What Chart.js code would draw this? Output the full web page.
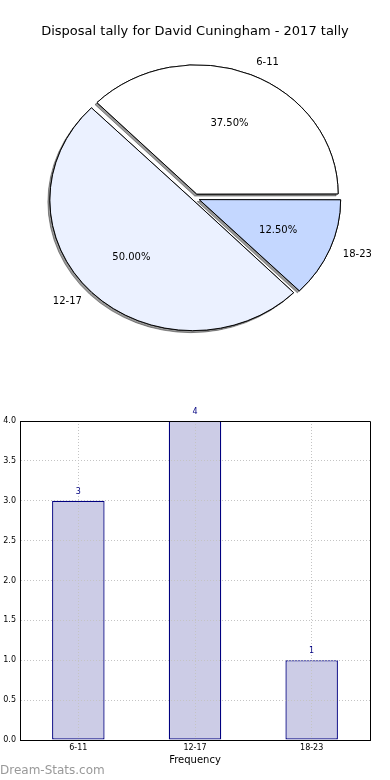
<!DOCTYPE html>
<html>
<head>
<meta charset="utf-8">
<script src="https://cdn.jsdelivr.net/npm/chart.js@4"></script>
<style>
  html, body { margin: 0; padding: 0; background: #fff; }
  body { width: 390px; height: 780px; position: relative; overflow: hidden; font-family: 'DejaVu Sans', sans-serif; }
  #pieChart { position: absolute; left: 0; top: 0; }
  #barChart { position: absolute; left: 0; top: 400px; }
  .watermark { position: absolute; left: 0; top: 762px; font-size: 12px; line-height: 16px; color: #999; }
</style>
</head>
<body>
<canvas id="pieChart" width="390" height="400"></canvas>
<canvas id="barChart" width="390" height="380"></canvas>
<div class="watermark">Dream-Stats.com</div>
<script>
const categories = ['6-11', '12-17', '18-23'];
const tally = [3, 4, 1];
const yTicks = [0, 0.5, 1, 1.5, 2, 2.5, 3, 3.5, 4];
const pieTitle = 'Disposal tally for David Cuningham - 2017 tally';
const xTitle = 'Frequency';

const sliceColors = ['#ffffff', '#ebf1ff', '#c4d7ff'];
const EXPLODE = 6;     // px each slice is pushed out
const SQUASH = 0.914;  // pie is a little flatter than a circle
const FONT = '"DejaVu Sans", sans-serif';

const total = tally.reduce((a, b) => a + b, 0);

// matplotlib goes counter-clockwise from 3 o'clock, chart.js clockwise -> reverse
const pieLabels = categories.slice().reverse();
const pieValues = tally.slice().reverse();
const pieColors = sliceColors.slice().reverse();

const pieStyle = {
    id: 'pieStyle',
    beforeDatasetsDraw(chart) {
        const ctx = chart.ctx;
        const arcs = chart.getDatasetMeta(0).data;
        const { x, y } = arcs[0];
        ctx.save();
        ctx.translate(x, y);
        ctx.scale(1, SQUASH);
        ctx.translate(-x, -y);
        // shadow pass, covered afterwards by the normal draw
        ctx.save();
        ctx.shadowColor = 'rgba(0,0,0,0.4)';
        ctx.shadowOffsetX = -2;
        ctx.shadowOffsetY = 2;
        ctx.shadowBlur = 0;
        arcs.forEach(a => a.draw(ctx));
        ctx.restore();
    },
    afterDatasetsDraw(chart) {
        const ctx = chart.ctx;
        ctx.restore();

        const meta = chart.getDatasetMeta(0);
        ctx.save();
        ctx.font = '10px ' + FONT;
        ctx.fillStyle = '#000';
        ctx.textBaseline = 'middle';
        meta.data.forEach((arc, i) => {
            const { x, y, startAngle, endAngle, outerRadius } =
                arc.getProps(['x', 'y', 'startAngle', 'endAngle', 'outerRadius'], true);
            const mid = (startAngle + endAngle) / 2;
            const cos = Math.cos(mid);
            const sin = Math.sin(mid);
            const px = k => x + cos * (EXPLODE + k * outerRadius);
            const py = k => y + sin * (EXPLODE + k * outerRadius) * SQUASH;

            const pct = (pieValues[i] / total * 100).toFixed(2) + '%';
            ctx.textAlign = 'center';
            ctx.fillText(pct, px(0.6), py(0.6) + 1);

            ctx.textAlign = cos > 0 ? 'left' : 'right';
            ctx.fillText(pieLabels[i], px(1.1), py(1.1));
        });
        ctx.restore();
    }
};

new Chart(document.getElementById('pieChart'), {
    type: 'pie',
    data: {
        labels: pieLabels,
        datasets: [{
            data: pieValues,
            backgroundColor: pieColors,
            borderColor: '#000',
            borderWidth: 1,
            clip: false,
            // chart.js moves an arc by offset/4 * (1 + fix), undo that so every slice moves EXPLODE px
            offset: (c) => {
                if (c.raw === undefined) return 0;
                const circ = c.raw / total * 2 * Math.PI;
                const fix = 1 - Math.sin(Math.min(Math.PI, circ));
                return 4 * EXPLODE / (1 + fix);
            }
        }]
    },
    options: {
        responsive: false,
        animation: false,
        events: [],
        rotation: 90,
        radius: 140,
        layout: { padding: { top: 0, bottom: 53.6, left: 0, right: 0 } },
        plugins: {
            legend: { display: false },
            tooltip: { enabled: false },
            title: {
                display: true,
                text: pieTitle,
                color: '#000',
                font: { family: FONT, size: 13, weight: 'normal' },
                padding: { top: 24, bottom: 10 }
            }
        }
    },
    plugins: [pieStyle]
});

const barExtras = {
    id: 'barExtras',
    afterDraw(chart) {
        const ctx = chart.ctx;
        const { left, right, top, bottom } = chart.chartArea;
        ctx.save();
        ctx.strokeStyle = '#000';
        ctx.lineWidth = 1;
        ctx.beginPath();
        ctx.moveTo(Math.round(left), Math.round(top) + 0.5);
        ctx.lineTo(Math.round(right) + 0.5, Math.round(top) + 0.5);
        ctx.lineTo(Math.round(right) + 0.5, Math.round(bottom));
        ctx.stroke();

        ctx.font = '8px ' + FONT;
        ctx.fillStyle = '#000080';
        ctx.textAlign = 'center';
        ctx.textBaseline = 'middle';
        chart.getDatasetMeta(0).data.forEach((bar, i) => {
            ctx.fillText(String(tally[i]), bar.x, bar.y - 9);
        });
        ctx.restore();
    }
};

new Chart(document.getElementById('barChart'), {
    type: 'bar',
    data: {
        labels: categories,
        datasets: [{
            data: tally,
            backgroundColor: 'rgb(204,204,230)',
            borderColor: '#000080',
            borderWidth: 1.3,
            borderSkipped: false,
            barPercentage: 0.45,
            categoryPercentage: 1
        }]
    },
    options: {
        responsive: false,
        animation: false,
        events: [],
        layout: { padding: { top: 21, right: 20, left: 0, bottom: 0 } },
        plugins: {
            legend: { display: false },
            tooltip: { enabled: false }
        },
        scales: {
            x: {
                grid: { color: '#c4c4c4', offset: false, drawTicks: false, z: 1 },
                border: { color: '#000', width: 1, dash: [1, 2], z: 2 },
                ticks: { color: '#000', padding: 3, font: { family: FONT, size: 8 } },
                title: {
                    display: true,
                    text: xTitle,
                    color: '#000',
                    font: { family: FONT, size: 10 },
                    padding: { top: 0, bottom: 14 }
                },
                afterFit: s => { s.height = 40; }
            },
            y: {
                min: 0,
                max: 4,
                afterBuildTicks: s => { s.ticks = yTicks.map(v => ({ value: v })); },
                grid: { color: '#c4c4c4', drawTicks: false, z: 1 },
                border: { color: '#000', width: 1, dash: [1, 2], z: 2 },
                ticks: {
                    color: '#000',
                    padding: 4,
                    font: { family: FONT, size: 8 },
                    callback: v => Number(v).toFixed(1)
                },
                afterFit: s => { s.width = 20; }
            }
        }
    },
    plugins: [barExtras]
});
</script>
</body>
</html>
